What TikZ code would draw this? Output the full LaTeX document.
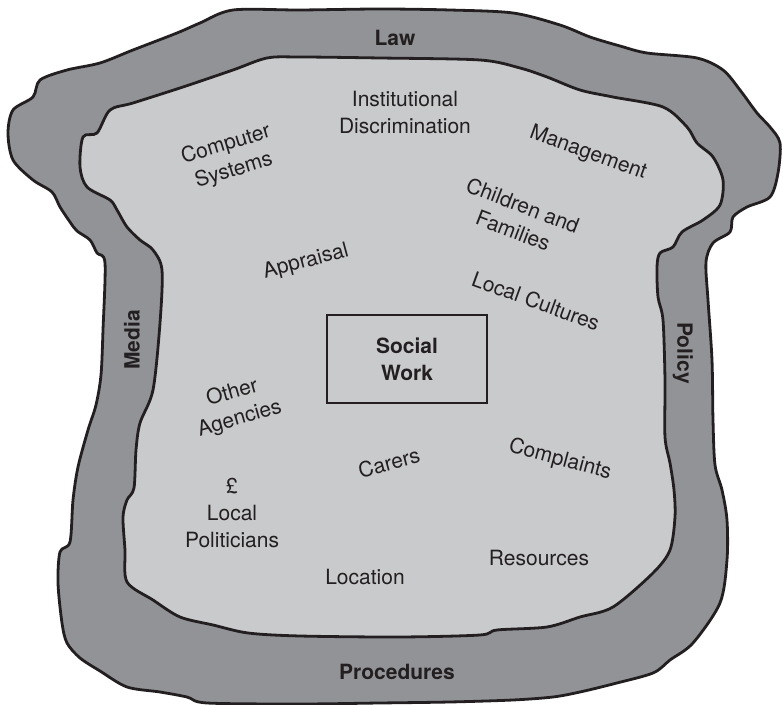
\documentclass[tikz,border=0pt]{standalone}
\usepackage{fontspec}
\setmainfont{TeX Gyre Heros}
\usetikzlibrary{positioning}

\definecolor{bandgray}{RGB}{146,147,151}
\definecolor{innergray}{RGB}{201,202,204}
\definecolor{inkdark}{RGB}{35,31,32}

\begin{document}
\begin{tikzpicture}[x=0.5pt,y=-0.5pt,
  word/.style={text=inkdark,align=center,inner sep=0pt,font=\fontsize{10.5}{13.5}\selectfont},
  bandword/.style={word,font=\fontsize{10.5}{13.5}\selectfont\bfseries},
  edge/.style={draw=inkdark,line width=1.4pt,line join=round}]
 \useasboundingbox (0,0) rectangle (783,705);
 \draw[edge,fill=bandgray] plot[smooth cycle,tension=0.5] coordinates {
  (233,10) (300,10) (380,9) (450,10) (513,13) (560,25) (590,37) (620,46) (647,53) (697,58)
  (723,70) (740,90) (757,113) (770,127) (780,143) (778,173) (770,197) (747,207) (733,217)
  (730,232) (713,243) (706,262) (708,300) (712,360) (713,420) (715,465) (722,490) (727,520)
  (727,560) (720,603) (693,643) (670,660) (653,673) (613,684) (580,692) (553,697) (513,700)
  (450,702) (380,703) (300,704) (207,703) (187,697) (160,692) (127,687) (100,671) (80,658)
  (67,643) (62,623) (58,583) (60,552) (70,542) (73,500) (78,467) (88,430) (96,405) (101,375)
  (103,330) (105,263) (97,253) (90,240) (77,231) (70,222) (60,207) (52,192) (33,180) (13,160)
  (8,133) (13,110) (33,97) (40,80) (67,70) (100,63) (133,50) (177,33) (200,23)};
 \draw[edge,fill=innergray] plot[smooth cycle,tension=0.5] coordinates {
  (267,58) (300,57) (380,58) (480,60) (520,68) (547,77) (580,90) (613,97) (663,107) (687,127)
  (697,143) (713,157) (723,180) (720,205) (703,220) (682,232) (673,247) (660,253) (657,267)
  (658,297) (663,320) (665,380) (665,437) (670,463) (674,490) (675,517) (670,550) (653,573)
  (613,607) (580,617) (547,627) (497,630) (480,635) (400,637) (300,636) (248,633) (213,625)
  (180,617) (153,600) (127,582) (125,550) (123,517) (127,500) (134,488) (136,450) (140,423)
  (153,390) (160,323) (162,270) (153,250) (140,240) (127,227) (117,210) (110,200) (87,187)
  (80,167) (83,137) (97,133) (110,110) (133,103) (183,87) (233,70)};
 \node[draw=inkdark,line width=1.2pt,minimum width=80pt,minimum height=44pt,inner sep=0pt] (socialwork) at (407,359) {};
 \node[bandword] (socialworktext) at (socialwork) {Social\\Work};
 \node[bandword] (law) at (395,38) {Law};
 \node[bandword] (procedures) at (397,672) {Procedures};
 \node[bandword,rotate=90] (media) at (132,340) {Media};
 \node[bandword,rotate=-90] (policy) at (683,353) {Policy};
 \node[word,rotate=17] (compsys) at (230,158) {Computer\\Systems};
 \node[word] (instdisc) at (405,113) {Institutional\\Discrimination};
 \node[word,rotate=-20] (mgmt) at (588,153) {Management};
 \node[word,rotate=-21] (children) at (518,218) {Children and\\Families};
 \node[word,rotate=15] (appraisal) at (306,262) {Appraisal};
 \node[word,rotate=-20] (localcult) at (536,301) {Local Cultures};
 \node[word,rotate=16] (otheragencies) at (236,406) {Other\\Agencies};
 \node[word,rotate=-15] (complaints) at (560,460) {Complaints};
 \node[word,rotate=15] (carers) at (389,463) {Carers};
 \node[word] (politicians) at (232,513) {£\\Local\\Politicians};
 \node[word] (location) at (365,577) {Location};
 \node[word] (resources) at (539,558) {Resources};
\end{tikzpicture}
\end{document}
